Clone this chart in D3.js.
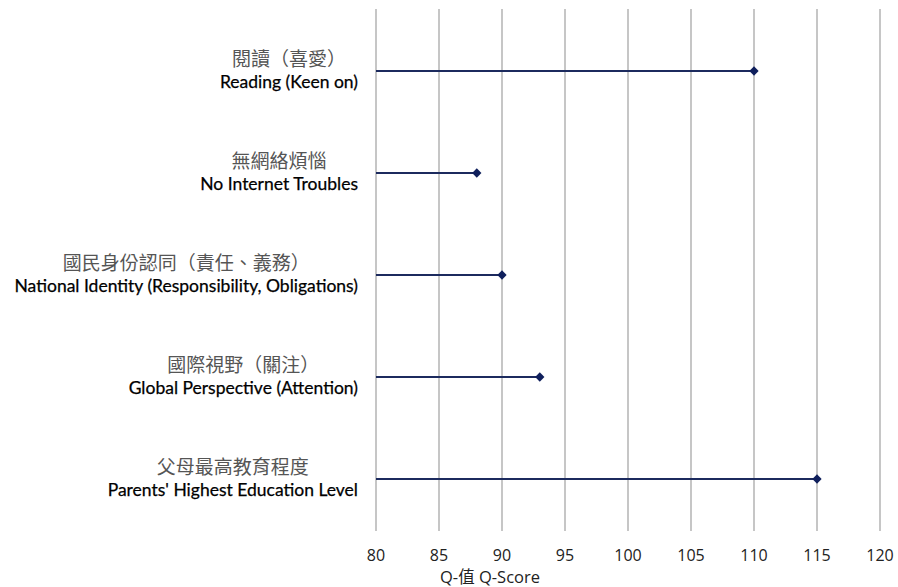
<!DOCTYPE html>
<html><head><meta charset="utf-8">
<script src="https://cdn.jsdelivr.net/npm/d3@7"></script>
<style>body{margin:0;background:#fff}svg{display:block}</style>
</head><body>
<svg id="c" width="898" height="587"></svg>
<script>
const categoriesZh = ["閱讀（喜愛）","無網絡煩惱","國民身份認同（責任、義務）","國際視野（關注）","父母最高教育程度"];
const categoriesEn = ["Reading (Keen on)","No Internet Troubles","National Identity (Responsibility, Obligations)","Global Perspective (Attention)","Parents' Highest Education Level"];
const values = [110, 88, 90, 93, 115];
const xTicks = [80,85,90,95,100,105,110,115,120];
const axisTitle = "Q-值 Q-Score";

(function(){
const svg = d3.select("#c");
const x = d3.scaleLinear().domain([80,120]).range([376,880]);
const y = d3.scalePoint().domain(d3.range(values.length)).range([71,479]);
const gTop = 9, gBottom = 531;

svg.append("g").selectAll("line").data(xTicks).join("line")
  .attr("x1", d=>x(d)).attr("x2", d=>x(d)).attr("y1", gTop).attr("y2", gBottom)
  .attr("stroke", "#b8b8b8").attr("stroke-width", 1.6);

svg.append("g").selectAll("text").data(xTicks).join("text")
  .attr("x", d=>x(d)).attr("y", 561).attr("text-anchor","middle")
  .attr("font-family","'Open Sans', sans-serif").attr("font-size",16).attr("fill","#222")
  .text(d=>d);

svg.append("text").attr("x", 490).attr("y", 583).attr("text-anchor","middle")
  .attr("font-family","'Open Sans','Noto Sans CJK TC', sans-serif").attr("font-size",16.5).attr("fill","#222")
  .text(axisTitle);

svg.append("g").selectAll("line").data(values).join("line")
  .attr("x1", x(80)).attr("x2", d=>x(d)).attr("y1",(d,i)=>y(i)).attr("y2",(d,i)=>y(i))
  .attr("stroke","#1c2a5e").attr("stroke-width",2);

svg.append("g").selectAll("path").data(values).join("path")
  .attr("d", d3.symbol().type(d3.symbolDiamond2).size(55))
  .attr("transform",(d,i)=>`translate(${x(d)},${y(i)})`)
  .attr("fill","#0f1f5c");

const lab = svg.append("g");
const en = lab.selectAll("text.en").data(categoriesEn).join("text").attr("class","en")
  .attr("x",358).attr("y",(d,i)=>y(i)+17).attr("text-anchor","end")
  .attr("font-family","Lato, sans-serif").attr("font-size",17.5).attr("fill","#000")
  .attr("stroke","#000").attr("stroke-width",0.25)
  .text(d=>d);
const centers = en.nodes().map(n=>{const b=n.getBBox(); return b.x+b.width/2;});
lab.selectAll("text.zh").data(categoriesZh).join("text").attr("class","zh")
  .attr("x",(d,i)=>centers[i]).attr("y",(d,i)=>y(i)-5).attr("text-anchor","middle")
  .attr("font-family","'Noto Sans CJK TC', sans-serif").attr("font-size",19).attr("fill","#555")
  .text(d=>d);
})();
</script>
</body></html>
